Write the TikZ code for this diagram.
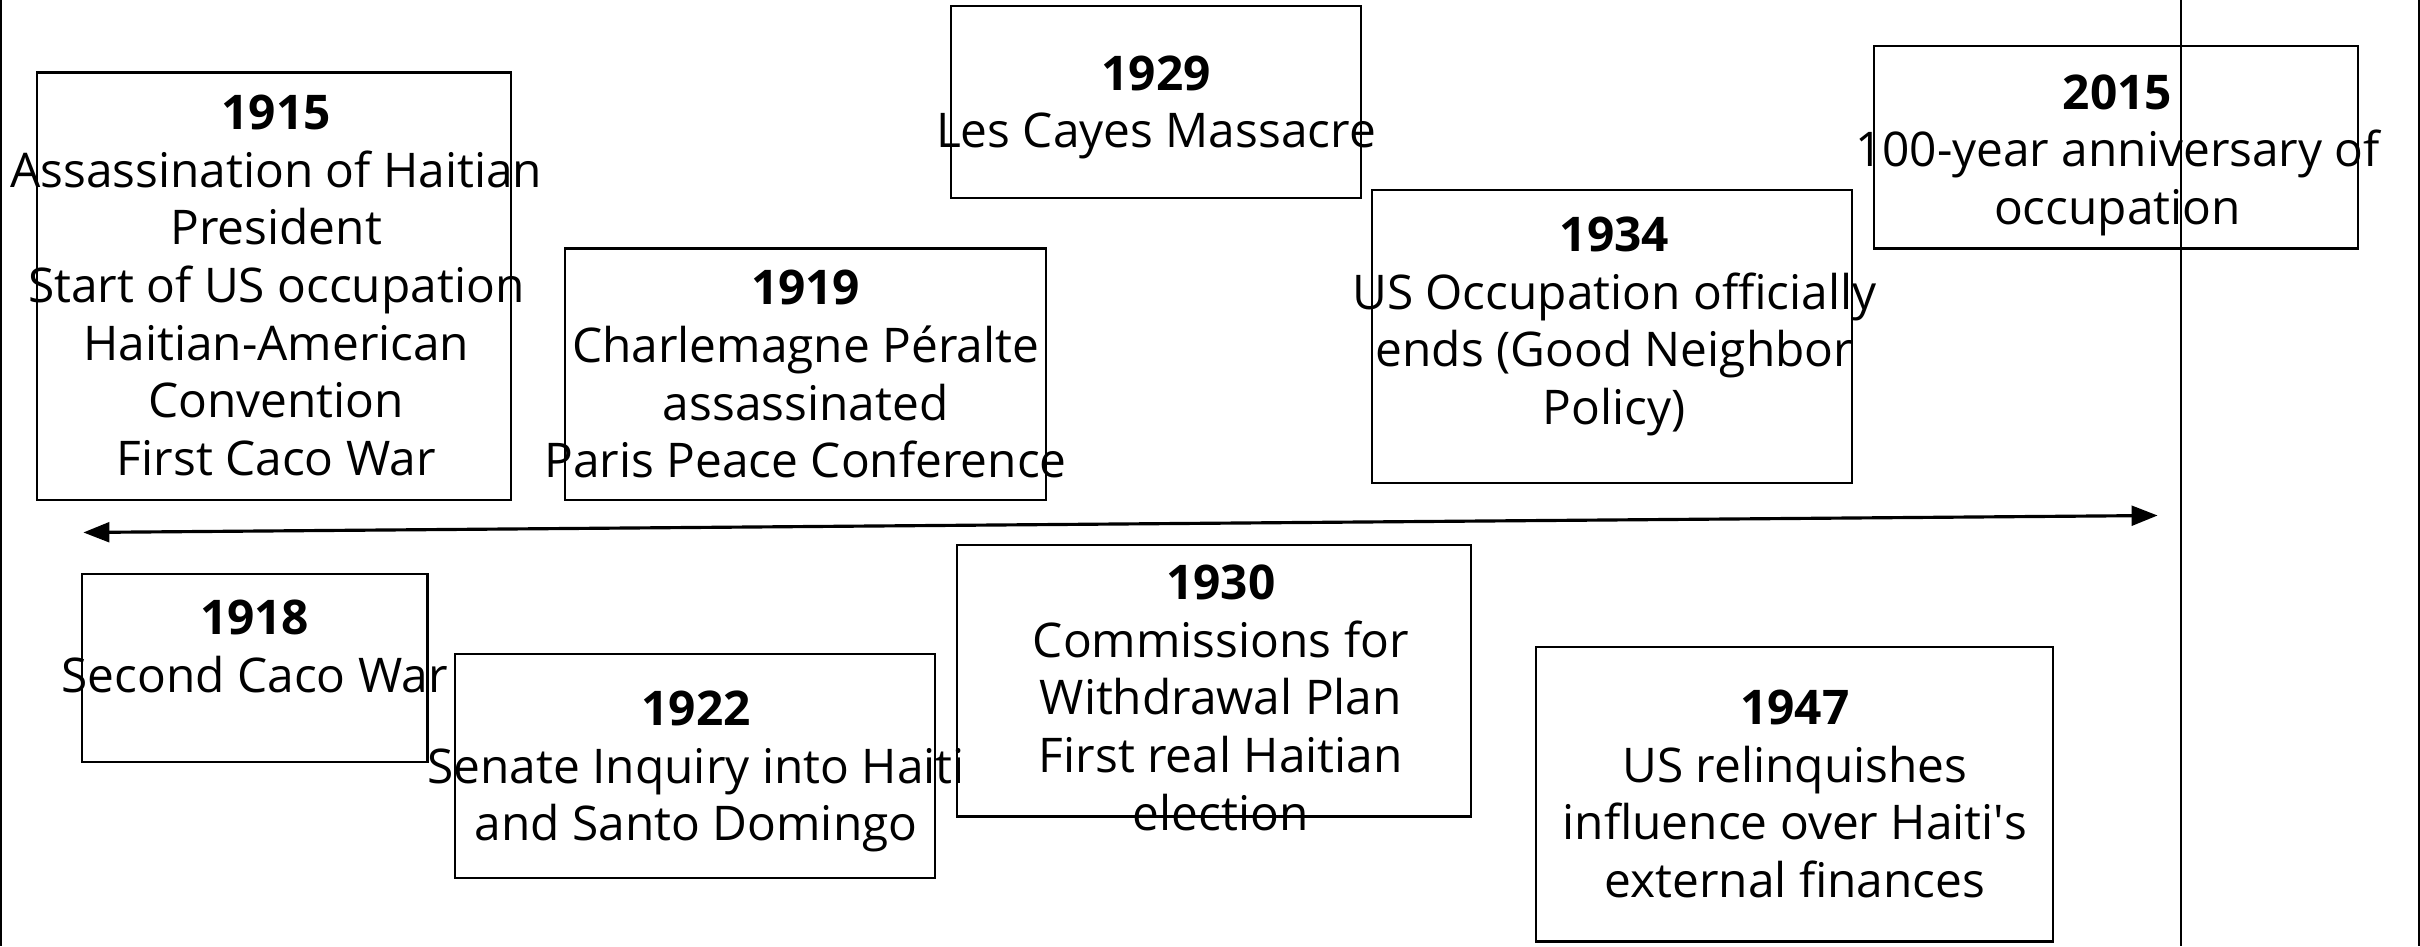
\documentclass[tikz,border=0pt]{standalone}
\usepackage{fontspec}
\setmainfont{Open Sans}
\usetikzlibrary{arrows.meta}
\usetikzlibrary{calc}
\usetikzlibrary{fit}

\begin{document}
\begin{tikzpicture}[
  x=0.1543mm, y=-0.1543mm,
  > = {Triangle[length=7.4pt,width=5.6pt]},
  event/.style = {draw, line width=0.6pt, inner sep=0pt},
  evtext/.style = {align=center, inner sep=0pt, font=\fontsize{13.6}{16.4}\selectfont}
  ]
	\useasboundingbox (0,0) rectangle (1568,613);

	% frame and the line at the right
	\draw[line width=0.5pt] (0.8,0) -- (0.8,613);
	\draw[line width=0.5pt] (1567.2,0) -- (1567.2,613);
	\draw[line width=0.5pt] (1413,0) -- (1413,613);

	% time axis
	\coordinate (@start) at (54,345);
	\coordinate (@end) at (1398,334);
	\draw[<->, line width=0.9pt] (@start) -- (@end);

	% boxes above the axis
	\node[event, fit={(24,47) (331,324)}] (b1915) {};
	\node[event, fit={(366,161) (678,324)}] (b1919) {};
	\node[event, fit={(616,4) (882,128)}] (b1929) {};
	\node[event, fit={(889,123) (1200,313)}] (b1934) {};
	\node[event, fit={(1214,30) (1528,161)}] (b2015) {};

	% boxes below the axis
	\node[event, fit={(53,372) (277,494)}] (b1918) {};
	\node[event, fit={(295,424) (606,569)}] (b1922) {};
	\node[event, fit={(620,353) (953,529)}] (b1930) {};
	\node[event, fit={(995,419) (1330,610)}] (b1947) {};

	\node[evtext] (t1915) at ($(b1915.center)+(1.5,-0.5)$) {\textbf{1915}\\Assassination of Haitian\\President\\Start of US occupation\\Haitian-American\\Convention\\First Caco War};
	\node[evtext] (t1919) at ($(b1919.center)+(0,0)$) {\textbf{1919}\\Charlemagne Péralte\\assassinated\\Paris Peace Conference};
	\node[evtext] (t1929) at ($(b1929.center)+(0,3.5)$) {\textbf{1929}\\Les Cayes Massacre};
	\node[evtext] (t1934) at ($(b1934.center)+(1.5,-6.5)$) {\textbf{1934}\\US Occupation officially\\ends (Good Neighbor\\Policy)};
	\node[evtext] (t2015) at ($(b2015.center)+(1,5)$) {\textbf{2015}\\100-year anniversary of\\occupation};

	\node[evtext] (t1918) at ($(b1918.center)+(0,-14)$) {\textbf{1918}\\Second Caco War};
	\node[evtext] (t1922) at ($(b1922.center)+(0.5,3.5)$) {\textbf{1922}\\Senate Inquiry into Haiti\\and Santo Domingo};
	\node[evtext] (t1930) at ($(b1930.center)+(4.5,11)$) {\textbf{1930}\\Commissions for\\Withdrawal Plan\\First real Haitian\\election};
	\node[evtext] (t1947) at ($(b1947.center)+(0.5,0)$) {\textbf{1947}\\US relinquishes\\influence over Haiti\textquotesingle s\\external finances};

\end{tikzpicture}
\end{document}
